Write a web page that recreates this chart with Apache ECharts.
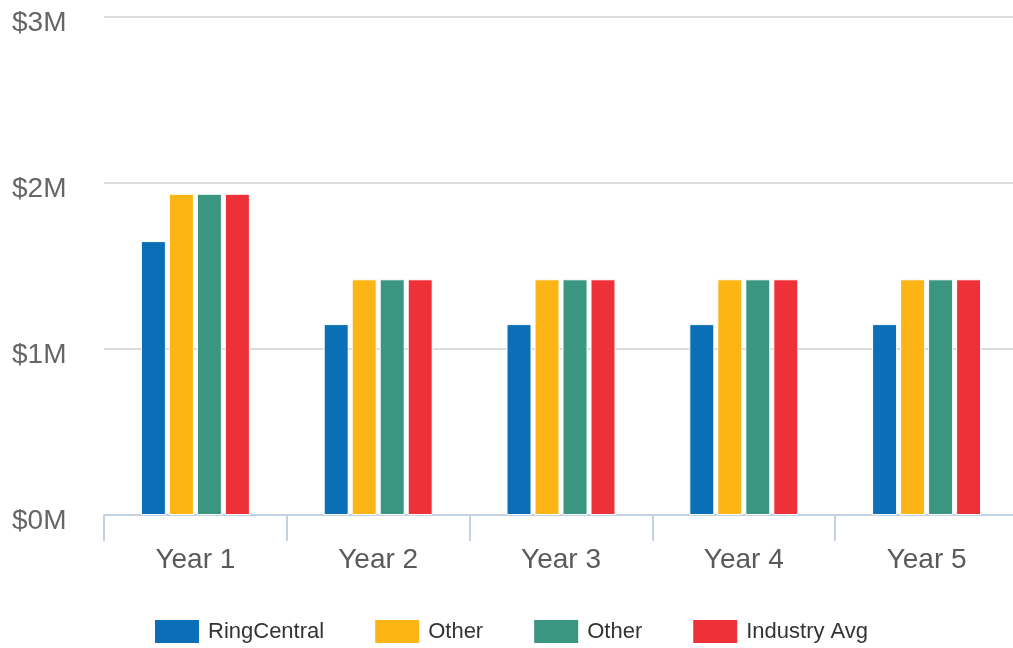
<!DOCTYPE html>
<html><head><meta charset="utf-8">
<script src="https://cdn.jsdelivr.net/npm/echarts@6/dist/echarts.min.js"></script>
<style>html,body{margin:0;padding:0;background:#fff}#c{width:1013px;height:648px}</style>
</head><body><div id="c"></div>
<script>
const categories = ["Year 1", "Year 2", "Year 3", "Year 4", "Year 5"];
const seriesNames = ["RingCentral", "Other", "Other", "Industry Avg"];
const ringCentral = [1.65, 1.15, 1.15, 1.15, 1.15];
const other1 = [1.935, 1.42, 1.42, 1.42, 1.42];
const other2 = [1.935, 1.42, 1.42, 1.42, 1.42];
const industryAvg = [1.935, 1.42, 1.42, 1.42, 1.42];
const yTicks = ["$0M", "$1M", "$2M", "$3M"];
const colors = ["#0B6FB8", "#FDB515", "#3A9680", "#EE3139"];
const font = "Arial, 'Liberation Sans', sans-serif";

const dataSets = [ringCentral, other1, other2, industryAvg];
const chart = echarts.init(document.getElementById('c'));
chart.setOption({
  animation: false,
  textStyle: {fontFamily: font},
  color: colors,
  grid: {left: 104, top: 17, width: 914, bottom: 133, containLabel: false, outerBoundsMode: 'none'},
  legend: {
    left: 148, top: 613, itemWidth: 46, itemHeight: 25, itemGap: 49,
    icon: 'rect',
    textStyle: {fontSize: 22, color: '#333', fontFamily: font, padding: [0,0,0,3]},
    data: seriesNames.map((n, i) => ({name: n + (i === 2 ? '\u200b' : ''), itemStyle: {color: colors[i]}}))
  },
  xAxis: {
    type: 'category', data: categories,
    axisLine: {lineStyle: {color: '#C3D2E2', width: 2}},
    axisTick: {show: true, length: 26, lineStyle: {color: '#C3D2E2', width: 2}},
    axisLabel: {fontSize: 28, color: '#5a5a5a', margin: 31, fontFamily: font}
  },
  yAxis: {
    type: 'value', min: 0, max: 3, interval: 1,
    axisLine: {show: false}, axisTick: {show: false},
    splitLine: {lineStyle: {color: '#DCDCDC', width: 2}},
    axisLabel: {
      fontSize: 28, color: '#666', align: 'left', margin: 92, fontFamily: font,
      verticalAlign: 'top', lineHeight: 12,
      formatter: v => yTicks[Math.round(v)]
    }
  },
  series: dataSets.map((d, i) => ({
    name: seriesNames[i] + (i === 2 ? '\u200b' : ''),
    type: 'bar', data: d, barWidth: 25, barGap: '12%',
    itemStyle: {color: colors[i], borderColor: '#fff', borderWidth: 1}
  }))
});
</script></body></html>
